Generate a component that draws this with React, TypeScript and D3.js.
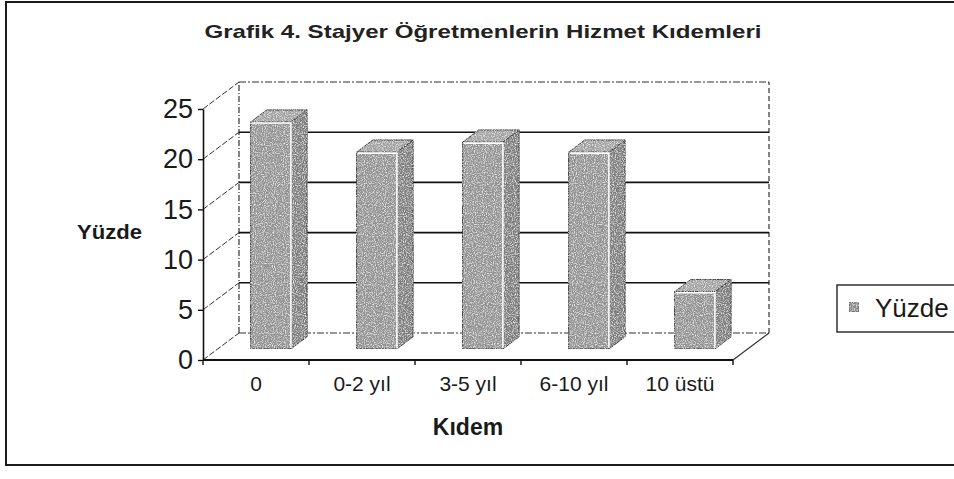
// @ts-nocheck
import { useEffect, useRef } from 'react'
import * as d3 from 'd3'

const categories = ['0', '0-2 yıl', '3-5 yıl', '6-10 yıl', '10 üstü']
const yuzde = [22.6, 19.6, 20.6, 19.6, 5.7]
const yTicks = [0, 5, 10, 15, 20, 25]

const W = 954
const H = 479
const FONT = '"Liberation Sans", Arial, sans-serif'

export default function App() {
  const svgRef = useRef<any>()

  useEffect(() => {
    const svg = d3.select(svgRef.current)
    svg.selectAll('*').remove()

    // speckled texture like the scanned bars
    const defs = svg.append('defs')
    const f = defs.append('filter').attr('id', 'grain').attr('x', 0).attr('y', 0).attr('width', 1).attr('height', 1)
    f.append('feTurbulence').attr('type', 'fractalNoise').attr('baseFrequency', 0.9).attr('numOctaves', 1).attr('seed', 4).attr('result', 'n')
    f.append('feColorMatrix').attr('in', 'n').attr('type', 'matrix')
      .attr('values', '0 0 0 0 1  0 0 0 0 1  0 0 0 0 1  2.4 0 0 0 -1.1').attr('result', 'spots')
    f.append('feComposite').attr('in', 'spots').attr('in2', 'SourceGraphic').attr('operator', 'in').attr('result', 'light')
    f.append('feColorMatrix').attr('in', 'n').attr('type', 'matrix')
      .attr('values', '0 0 0 0 0.25  0 0 0 0 0.25  0 0 0 0 0.25  0 -2.4 0 0 1.0').attr('result', 'dspots')
    f.append('feComposite').attr('in', 'dspots').attr('in2', 'SourceGraphic').attr('operator', 'in').attr('result', 'dark')
    const m = f.append('feMerge')
    m.append('feMergeNode').attr('in', 'SourceGraphic')
    m.append('feMergeNode').attr('in', 'dark')
    m.append('feMergeNode').attr('in', 'light')

    // geometry of the 3D box
    const x = d3.scaleBand().domain(categories).range([203, 733]).paddingInner(0.62).paddingOuter(0.31)
    const y = d3.scaleLinear().domain([0, 25]).range([360, 109])
    const dx = 36
    const dy = -27
    const barFront = 0.41
    const barBack = 0.86
    const [r0, r1] = x.range()

    // outer frame
    svg.append('rect')
      .attr('x', 6).attr('y', 2).attr('width', W).attr('height', 463)
      .attr('fill', '#fff').attr('stroke', '#1b1b1b').attr('stroke-width', 2)

    // title
    svg.append('text')
      .attr('x', 483).attr('y', 38).attr('text-anchor', 'middle')
      .attr('font-family', FONT).attr('font-size', 19).attr('font-weight', 'bold')
      .attr('fill', '#222').attr('textLength', 557).attr('lengthAdjust', 'spacingAndGlyphs')
      .text('Grafik 4. Stajyer Öğretmenlerin Hizmet Kıdemleri')

    // walls
    const walls = svg.append('g').attr('fill', 'none')
    walls.append('line')
      .attr('x1', r0 + dx).attr('x2', r0 + dx).attr('y1', y(0) + dy).attr('y2', y(25) + dy)
      .attr('stroke', '#333').attr('stroke-width', 1.2).attr('stroke-dasharray', '6,2,1,2')
    walls.append('line')
      .attr('x1', r1 + dx).attr('x2', r1 + dx).attr('y1', y(0) + dy).attr('y2', y(25) + dy)
      .attr('stroke', '#333').attr('stroke-width', 1.2).attr('stroke-dasharray', '5,3')

    yTicks.forEach((v) => {
      const edge = v === 0 || v === 25
      walls.append('line')
        .attr('x1', r0 + dx).attr('x2', r1 + dx).attr('y1', y(v) + dy).attr('y2', y(v) + dy)
        .attr('stroke', edge ? '#333' : '#111').attr('stroke-width', edge ? 1.2 : 1.6)
        .attr('stroke-dasharray', edge ? '7,2,2,2' : null)
      walls.append('line')
        .attr('x1', r0).attr('x2', r0 + dx).attr('y1', y(v)).attr('y2', y(v) + dy)
        .attr('stroke', '#333').attr('stroke-width', 1).attr('stroke-dasharray', '6,2')
    })

    // floor
    walls.append('line')
      .attr('x1', r1).attr('x2', r1 + dx).attr('y1', y(0)).attr('y2', y(0) + dy)
      .attr('stroke', '#333').attr('stroke-width', 1.2)
    walls.append('line')
      .attr('x1', r0).attr('x2', r1).attr('y1', y(0)).attr('y2', y(0))
      .attr('stroke', '#111').attr('stroke-width', 1.8)

    // bars
    const depth = barBack - barFront
    const bars = svg.append('g')
      .selectAll('g')
      .data(yuzde)
      .enter()
      .append('g')
    bars.each(function (v, i) {
      const g = d3.select(this)
      const w = x.bandwidth()
      const fx = x(categories[i]) + dx * barFront
      const fb = y(0) + dy * barFront
      const ft = y(v) + dy * barFront
      const ox = dx * depth
      const oy = dy * depth
      g.append('rect')
        .attr('x', fx).attr('y', ft).attr('width', w).attr('height', fb - ft)
        .attr('fill', '#939393').attr('stroke', '#3a3a3a').attr('filter', 'url(#grain)')
      g.append('polygon')
        .attr('points', [[fx + w, ft], [fx + w + ox, ft + oy], [fx + w + ox, fb + oy], [fx + w, fb]].join(' '))
        .attr('fill', '#7d7d7d').attr('stroke', '#3a3a3a').attr('filter', 'url(#grain)')
      g.append('polygon')
        .attr('points', [[fx, ft], [fx + ox, ft + oy], [fx + w + ox, ft + oy], [fx + w, ft]].join(' '))
        .attr('fill', '#a2a2a2').attr('stroke', '#3a3a3a').attr('filter', 'url(#grain)')
      g.append('polyline')
        .attr('points', [[fx + 1, ft + 1], [fx + w, ft + 1], [fx + w, fb - 1]].join(' '))
        .attr('fill', 'none').attr('stroke', '#fff').attr('stroke-width', 1.6)
    })

    // y axis on the front edge
    const yAxis = svg.append('g')
      .attr('transform', `translate(${r0},0)`)
      .call(d3.axisLeft(y).tickValues(yTicks).tickSize(5).tickSizeOuter(0).tickPadding(5))
    yAxis.select('.domain').attr('stroke', '#111').attr('stroke-width', 1.6)
    yAxis.selectAll('.tick line').attr('stroke', '#111').attr('stroke-width', 1.4)
    yAxis.selectAll('text').attr('font-family', FONT).attr('font-size', 27).attr('fill', '#1a1a1a')

    // x axis labels with ticks on the band edges
    const xAxis = svg.append('g')
      .attr('transform', `translate(0,${y(0)})`)
      .call(d3.axisBottom(x).tickSize(0).tickPadding(16))
    xAxis.select('.domain').remove()
    xAxis.selectAll('text').attr('font-family', FONT).attr('font-size', 21).attr('fill', '#1a1a1a')
    const edges = categories.map((_, i) => r0 + x.step() * i).concat([r1])
    svg.append('g')
      .selectAll('line')
      .data(edges)
      .enter()
      .append('line')
      .attr('x1', (d) => d).attr('x2', (d) => d)
      .attr('y1', y(0)).attr('y2', y(0) + 5)
      .attr('stroke', '#111').attr('stroke-width', 1.4)

    // axis titles
    svg.append('text')
      .attr('x', 77).attr('y', 239)
      .attr('font-family', FONT).attr('font-size', 20).attr('font-weight', 'bold').attr('fill', '#1a1a1a')
      .attr('textLength', 65).attr('lengthAdjust', 'spacingAndGlyphs')
      .text('Yüzde')
    svg.append('text')
      .attr('x', 468).attr('y', 435).attr('text-anchor', 'middle')
      .attr('font-family', FONT).attr('font-size', 23).attr('font-weight', 'bold').attr('fill', '#1a1a1a')
      .text('Kıdem')

    // legend
    const legend = svg.append('g')
    legend.append('rect')
      .attr('x', 837).attr('y', 285).attr('width', 140).attr('height', 47)
      .attr('fill', '#fff').attr('stroke', '#222').attr('stroke-width', 1.4)
    legend.append('rect')
      .attr('x', 849).attr('y', 302).attr('width', 10).attr('height', 10)
      .attr('fill', '#8a8a8a').attr('stroke', '#555').attr('filter', 'url(#grain)')
    legend.append('text')
      .attr('x', 875).attr('y', 317)
      .attr('font-family', FONT).attr('font-size', 26).attr('fill', '#1a1a1a')
      .text('Yüzde')
  }, [])

  return (
    <svg
      ref={svgRef}
      width={W}
      height={H}
      style={{ position: 'absolute', left: 0, top: 0, background: '#fff' }}
    ></svg>
  )
}
